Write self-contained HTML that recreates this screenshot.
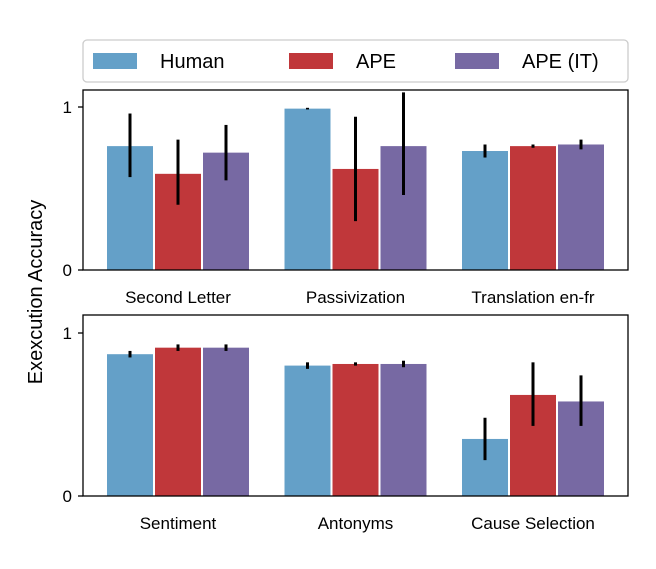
<!DOCTYPE html>
<html><head><meta charset="utf-8"><style>
body{margin:0;background:#fff;font-family:"Liberation Sans",sans-serif}
svg text{font-family:"Liberation Sans",sans-serif;fill:#000}
</style></head><body>
<svg id="c" width="656" height="564"></svg>
<script>
const seriesNames=["Human","APE","APE (IT)"];
const colors=["#64a0c8","#c0373a","#7769a3"];
const topCategories=["Second Letter","Passivization","Translation en-fr"];
const bottomCategories=["Sentiment","Antonyms","Cause Selection"];
const topHuman=[0.76,0.99,0.73];
const topAPE=[0.59,0.62,0.76];
const topIT=[0.72,0.76,0.77];
const topHumanErr=[[0.57,0.96],[0.985,0.995],[0.69,0.77]];
const topAPEErr=[[0.40,0.80],[0.30,0.94],[0.75,0.77]];
const topITErr=[[0.55,0.89],[0.46,1.09],[0.74,0.80]];
const botHuman=[0.87,0.80,0.35];
const botAPE=[0.91,0.81,0.62];
const botIT=[0.91,0.81,0.58];
const botHumanErr=[[0.85,0.89],[0.78,0.82],[0.22,0.48]];
const botAPEErr=[[0.89,0.93],[0.80,0.82],[0.43,0.82]];
const botITErr=[[0.89,0.93],[0.79,0.83],[0.43,0.74]];
const yTicks=[0,1];

const NS="http://www.w3.org/2000/svg";
const svg=document.getElementById('c');
function mk(tag,attrs,parent){const e=document.createElementNS(NS,tag);for(const k in attrs)e.setAttribute(k,attrs[k]);(parent||svg).appendChild(e);return e;}
const X0=83,X1=628;
function xCenter(i){return 178+177.5*i;}
function drawPanel(name,top,bottom,cats,vals,errs){
  const y=v=>bottom-v*163;
  const g=mk('g',{});
  
  
  const clip=mk('clipPath',{id:'clip-'+name},g);
  mk('rect',{x:X0,y:top,width:X1-X0,height:bottom-top},clip);
  const bw=46,step=48;
  cats.forEach((c,i)=>{
    const cx=xCenter(i);
    vals.forEach((arr,s)=>{
      const bx=cx+(s-1)*step-bw/2;
      const r=mk('rect',{x:bx,y:y(arr[i]),width:bw,height:bottom-y(arr[i]),fill:colors[s]},g);
      
      
      const e=mk('line',{x1:bx+bw/2,x2:bx+bw/2,y1:y(errs[s][i][0]),y2:y(errs[s][i][1]),stroke:'#000','stroke-width':3,'clip-path':'url(#clip-'+name+')'},g);
      
      
    });
    const t=mk('text',{x:cx,y:bottom+33,'text-anchor':'middle','font-size':17},g);
    t.textContent=c;
    
    
  });
  mk('rect',{x:X0,y:top,width:X1-X0,height:bottom-top,fill:'none',stroke:'#000','stroke-width':1.3},g);
  yTicks.forEach(v=>{
    mk('line',{x1:X0-5,x2:X0,y1:y(v),y2:y(v),stroke:'#000','stroke-width':1.3},g);
    const t=mk('text',{x:X0-11,y:y(v)+6,'text-anchor':'end','font-size':17},g);
    t.textContent=v;
    
    
  });
}
drawPanel('top-panel',90,270,topCategories,[topHuman,topAPE,topIT],[topHumanErr,topAPEErr,topITErr]);
drawPanel('bottom-panel',315,496,bottomCategories,[botHuman,botAPE,botIT],[botHumanErr,botAPEErr,botITErr]);
const yl=mk('text',{x:42,y:292,'text-anchor':'middle','font-size':20,transform:'rotate(-90 42 292)'});
yl.textContent='Exexcution Accuracy';


const lg=mk('g',{});


mk('rect',{x:83,y:40,width:545,height:42,rx:4,fill:'#fff',stroke:'#ccc','stroke-width':1.3},lg);
const lx=[93,289,455];
seriesNames.forEach((n,s)=>{
  const r=mk('rect',{x:lx[s],y:53,width:44,height:16,fill:colors[s]},lg);
  
  
  const t=mk('text',{x:lx[s]+67,y:68,'font-size':20},lg);
  t.textContent=n;
  
  
});
</script>
</body></html>
